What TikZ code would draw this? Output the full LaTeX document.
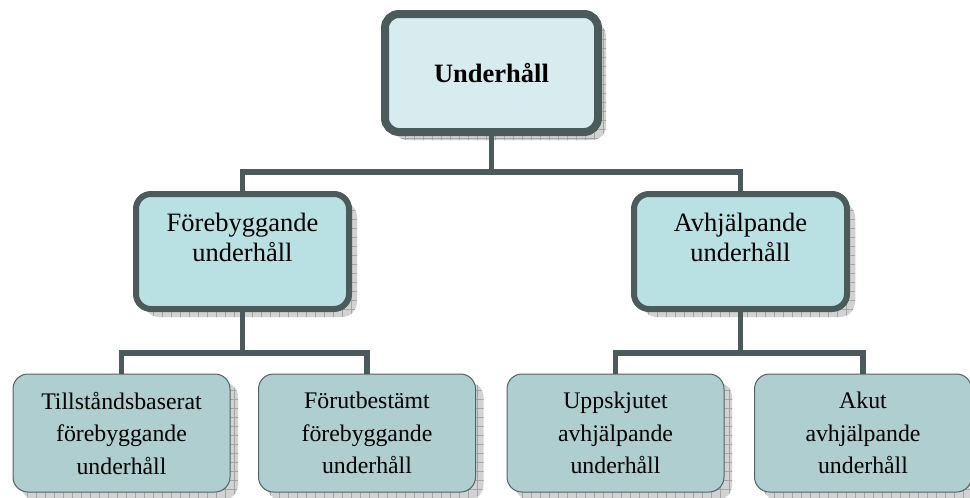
\documentclass[tikz,border=0pt]{standalone}
\usepackage{fontspec}
\setmainfont{Liberation Serif}
\usetikzlibrary{patterns.meta}
\definecolor{edge}{HTML}{4B5A5A}
\definecolor{thinedge}{HTML}{566262}
\definecolor{topfill}{HTML}{D8ECEF}
\definecolor{midfill}{HTML}{B9E0E3}
\definecolor{lowfill}{HTML}{AECED0}
\definecolor{shadowfill}{HTML}{D2D2D2}
\definecolor{shadowgrid}{HTML}{A4A4A4}
\tikzset{
  gridshadow/.style={
    preaction={fill=shadowfill, transform canvas={xshift=8pt,yshift=-8pt}},
    preaction={pattern={Hatch[distance=9pt,angle=0,line width=0.5pt]},
               pattern color=shadowgrid, transform canvas={xshift=8pt,yshift=-8pt}}},
  rootbox/.style={gridshadow, draw=edge, fill=topfill, line width=8pt,
    rounded corners=14pt, minimum width=213pt, minimum height=118pt, inner sep=0pt,
    font=\fontsize{26.5}{30}\selectfont\bfseries},
  midbox/.style={gridshadow, draw=edge, fill=midfill, line width=6pt,
    rounded corners=15pt, minimum width=213pt, minimum height=115pt, inner sep=0pt},
  midtext/.style={align=center, inner sep=0pt, font=\fontsize{26.5}{30}\selectfont},
  lowbox/.style={gridshadow, draw=thinedge, fill=lowfill, line width=1pt,
    rounded corners=15pt, minimum width=217pt, minimum height=118pt, inner sep=0pt,
    align=center, font=\fontsize{23.8}{32.5}\selectfont},
  conn/.style={draw=edge, line width=5.5pt}
}
\begin{document}
\begin{tikzpicture}[x=1pt,y=-1pt]
\useasboundingbox (0,0) rectangle (970,498);
% boxes
\node[rootbox] (root) at (491.5,73) {Underhåll};
\node[midbox] (pre) at (242.5,251.5) {};
\node[midbox] (cor) at (740.5,251.5) {};
\node[midtext] (pre-t) at (242.5,237) {Förebyggande\\underhåll};
\node[midtext] (cor-t) at (740.5,237) {Avhjälpande\\underhåll};
\node[lowbox] (cbm) at (121.5,433) {Tillståndsbaserat\\förebyggande\\underhåll};
\node[lowbox] (pdm) at (367,433) {Förutbestämt\\förebyggande\\underhåll};
\node[lowbox] (def) at (615.5,433) {Uppskjutet\\avhjälpande\\underhåll};
\node[lowbox] (imm) at (863,433) {Akut\\avhjälpande\\underhåll};
% junctions
\coordinate (j1) at (491.5,172);
\coordinate (j2) at (242.5,353);
\coordinate (j3) at (740.5,353);
% connectors
\draw[conn] (root.south) -- (j1);
\draw[conn] (pre.north) |- (j1) -| (cor.north);
\draw[conn] (pre.south) -- (j2);
\draw[conn] (cbm.north) |- (j2) -| (pdm.north);
\draw[conn] (cor.south) -- (j3);
\draw[conn] (def.north) |- (j3) -| (imm.north);
\end{tikzpicture}
\end{document}
